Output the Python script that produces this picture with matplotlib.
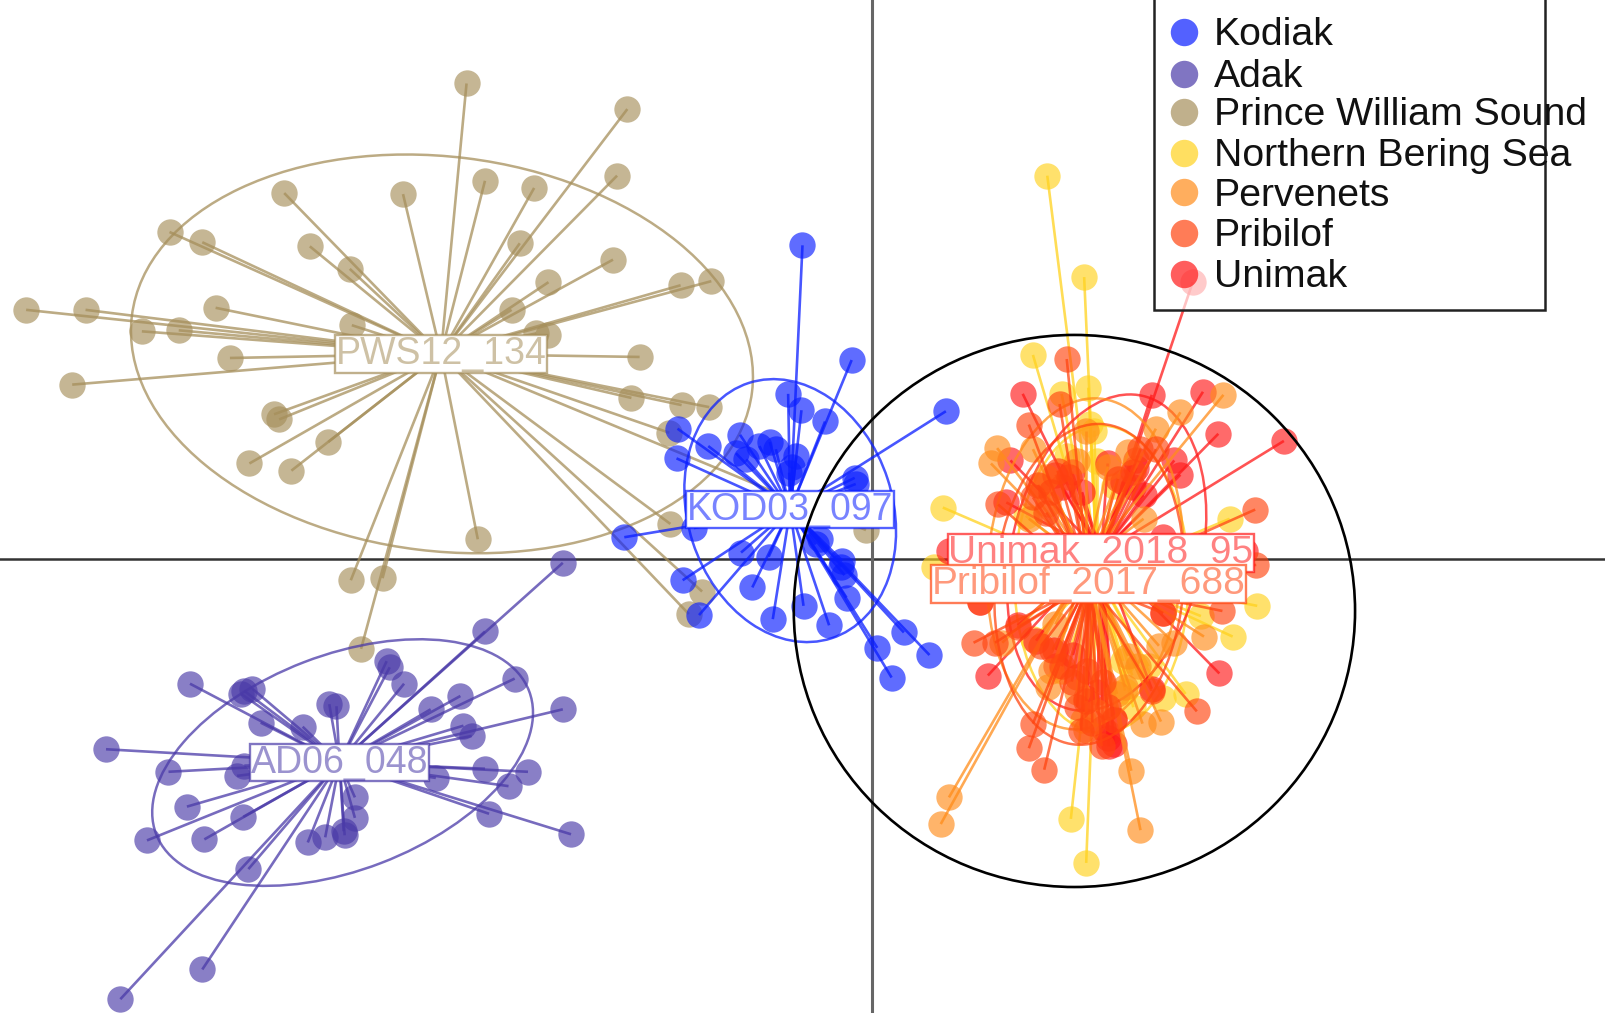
import matplotlib
matplotlib.use('Agg')
import matplotlib.pyplot as plt
from matplotlib.colors import to_rgba
from matplotlib.patches import Ellipse, Rectangle

plt.rcParams['font.family'] = ['Liberation Sans', 'DejaVu Sans']

# discriminant scores
pws_x = [-3.96, -2.39, -2.49, -3.78, -3.30, -4.58, -5.74, -6.86, -6.54, -5.49, -5.10, -3.44, -2.53, -3.16, -3.52,
         -1.87, -1.57, -3.28, -3.16, -5.08, -8.26, -7.68, -7.13, -6.77, -6.41, -6.27, -7.81, -2.27, -2.35, -1.86,
         -1.59, -1.98, -5.84, -5.79, -5.31, -6.08, -5.67, -3.85, -1.97, -5.09, -4.78, -4.99, -1.66, -1.79, -0.06]
pws_y = [4.64, 4.39, 3.74, 3.69, 3.62, 3.56, 3.57, 3.19, 3.09, 3.05, 2.83, 3.08, 2.92, 2.70, 2.43,
         2.67, 2.71, 2.20, 2.18, 2.28, 2.43, 2.43, 2.22, 2.23, 2.45, 1.96, 1.70, 1.97, 1.57, 1.50,
         1.48, 1.23, 1.41, 1.36, 1.14, 0.93, 0.86, 0.19, 0.34, -0.21, -0.19, -0.88, -0.32, -0.54, 0.28]

adk_x = [-3.02, -3.78, -6.66, -6.13, -6.05, -6.16, -5.97, -5.56, -5.30, -5.23, -4.74, -4.71, -4.57, -3.49, -4.02,
         -4.31, -3.02, -3.99, -3.91, -7.48, -6.87, -6.13, -6.20, -4.26, -3.78, -3.36, -3.55, -6.69, -6.14, -7.08,
         -6.52, -5.05, -5.05, -3.74, -2.94, -5.51, -5.34, -5.16, -5.15, -6.09, -6.54, -7.34]
adk_y = [-0.04, -0.71, -1.22, -1.29, -1.27, -1.32, -1.60, -1.64, -1.42, -1.44, -1.00, -1.06, -1.22, -1.17, -1.34,
         -1.47, -1.47, -1.63, -1.73, -1.86, -2.08, -2.02, -2.12, -2.14, -2.05, -2.08, -2.22, -2.42, -2.52, -2.75,
         -2.74, -2.33, -2.53, -2.49, -2.69, -2.77, -2.72, -2.66, -2.70, -3.03, -4.01, -4.30]

kod_x = [-0.68, -0.20, 0.72, -0.82, -0.69, -0.46, -1.90, -1.91, -1.60, -1.29, -1.33, -1.00, -0.94, -0.74, -0.78,
         -0.17, -0.16, -2.42, -1.74, -1.28, -1.01, -1.85, -1.17, -1.69, -0.97, -0.67, -0.42, -0.25, -0.29, -0.30,
         -0.27, 0.31, 0.05, 0.56, 0.19, -0.51, -1.23, -0.81, -0.55, -1.10]
kod_y = [3.06, 1.94, 1.44, 1.61, 1.45, 1.34, 1.27, 0.98, 1.10, 1.21, 1.03, 1.14, 1.07, 1.00, 0.90,
         0.79, 0.73, 0.21, 0.30, 0.06, 0.02, -0.21, -0.28, -0.55, -0.59, -0.46, -0.65, -0.38, -0.02, -0.08,
         -0.16, -0.72, -0.87, -0.94, -1.16, 0.19, 0.97, 0.84, 0.14, 1.10]

nbs_x = [1.71, 2.07, 1.57, 2.11, 1.85, 0.69, 0.60, 3.49, 3.76, 3.52, 1.94, 2.09, 3.06, 1.57, 2.17, 1.65, 2.36,
         3.21, 2.06, 2.47, 2.13, 1.50, 2.84, 2.54, 1.90, 2.20, 2.45, 2.55, 2.30, 2.70, 1.85]
nbs_y = [3.74, 2.75, 1.99, 1.67, 1.61, 0.50, -0.08, 0.39, -0.46, -0.76, -2.54, -2.97, -1.32, -0.78, 1.25, 0.71,
         0.71, -0.56, -1.57, -1.29, 1.32, 0.42, -1.36, -1.14, 1.00, 0.95, -1.00, -1.45, -1.70, -1.05, -1.10]

per_x = [3.43, 3.01, 2.77, 1.22, 1.16, 1.57, 0.75, 0.67, 2.53, 2.62, 2.64, 2.82, 3.24, 2.95, 2.80, 2.09, 2.50,
         2.65, 1.53, 1.72, 1.27, 1.72, 1.79, 2.47, 2.39, 2.09, 1.70, 2.00, 2.30, 1.75, 2.00, 2.20, 2.50, 2.60]
per_y = [1.60, 1.43, 1.27, 1.08, 0.93, 1.07, -2.33, -2.59, -2.07, -2.65, -1.61, -1.59, -0.76, -0.82, -0.85, 1.25,
         1.04, 0.39, 0.39, 0.53, -0.82, -1.25, -0.64, -1.25, -1.32, -1.67, 0.80, 0.95, 0.90, -1.10, -1.30, -1.50,
         -0.95, -1.05]

pri_x = [1.90, 1.53, 1.83, 1.23, 3.74, 3.75, 3.42, 3.17, 0.99, 1.42, 1.68, 1.53, 1.57, 2.04, 1.76, 1.57, 2.62,
         2.77, 1.81, 2.09, 2.73, 2.36, 1.05, 2.24, 2.84, 1.20, 1.62, 1.75, 1.92, 1.70, 2.55, 2.40, 1.65, 1.85,
         1.95, 2.10, 2.25, 2.30, 2.15, 2.00]
pri_y = [1.95, 1.31, 1.51, 0.53, 0.48, -0.06, -0.51, -1.49, -0.82, -0.67, -2.06, -1.85, -1.61, -1.68, -0.89, 0.60,
         1.07, 1.07, 0.86, -1.39, -1.29, -1.57, -0.42, -1.83, -0.53, -0.82, 0.72, 0.65, 0.80, 0.45, 0.85, 0.78,
         -0.85, -1.05, -1.20, -1.10, -1.20, -1.45, -1.60, -1.45]

uni_x = [1.47, 1.35, 1.31, 2.73, 3.23, 3.38, 4.02, 3.13, 2.95, 3.01, 2.58, 2.30, 0.75, 3.64, 2.84, 3.39, 1.13,
         1.42, 1.96, 2.73, 2.09, 2.36, 2.31, 2.36, 1.79, 1.79, 2.58, 1.05, 2.84, 1.85, 1.95, 2.05, 2.45, 2.55,
         2.65, 1.60, 1.80, 2.00, 2.20, 2.25, 2.30]
uni_y = [1.61, 0.96, 0.55, 1.60, 1.63, 1.22, 1.15, 2.70, 0.96, 0.82, 0.89, 0.93, 0.08, 0.08, -0.53, -1.12, -1.14,
         -0.65, -0.94, -1.27, -1.36, -1.56, -1.83, -1.81, -0.89, 0.82, 0.96, -0.42, 0.21, 0.70, 0.85, 0.65, 0.75,
         0.70, 0.62, -0.80, -1.05, -1.15, -1.30, -1.65, -1.75]

# name, x, y, colour, centroid x/y, ellipse x/y/width/height/angle, label, label size
groups = [
    ('Prince William Sound', pws_x, pws_y, '#a68f5b', (-4.21, 2.00), (-4.20, 2.00, 6.10, 3.85, -7), 'PWS12_134', 27),
    ('Adak', adk_x, adk_y, '#4a3aa8', (-5.20, -1.99), (-5.17, -1.99, 3.90, 2.10, 21), 'AD06_048', 27),
    ('Kodiak', kod_x, kod_y, '#0a1eff', (-0.80, 0.48), (-0.80, 0.47, 2.62, 2.00, -72), 'KOD03_097', 27),
    ('Northern Bering Sea', nbs_x, nbs_y, '#ffd21e', (2.20, -0.15), (2.24, -0.20, 3.00, 1.70, 90), None, 0),
    ('Unimak', uni_x, uni_y, '#ff1a1a', (2.235, 0.055), (2.29, 0.06, 3.14, 1.86, 77), 'Unimak_2018_95', 28),
    ('Pervenets', per_x, per_y, '#ff8c1a', (2.09, -0.03), (2.08, -0.05, 3.24, 1.90, 85), None, 0),
    ('Pribilof', pri_x, pri_y, '#ff4510', (2.115, -0.245), (2.12, -0.25, 3.14, 1.84, 85), 'Pribilof_2017_688', 28),
]

legend_order = ['Kodiak', 'Adak', 'Prince William Sound', 'Northern Bering Sea', 'Pervenets', 'Pribilof', 'Unimak']
legend_y = [0.032, 0.073, 0.111, 0.151, 0.190, 0.230, 0.270]

fig = plt.figure(figsize=(16.06, 10.13), dpi=100)
ax = fig.add_axes([0, 0, 1, 1])
ax.set_xlim(-8.515, 7.165)
ax.set_ylim(-4.435, 5.455)
ax.axis('off')

ax.axhline(0, color='#333333', lw=1.8, zorder=1)
ax.axvline(0, color='#666666', lw=2.2, zorder=1)

colours = {}
for i, (name, xs, ys, col, cen, ell, lab, size) in enumerate(groups):
    colours[name] = col
    z = 2 + i * 0.1
    for x, y in zip(xs, ys):
        ax.plot([cen[0], x], [cen[1], y], color=col, lw=1.9, alpha=0.75, zorder=z, solid_capstyle='butt')
    ax.scatter(xs, ys, s=360, color=col, alpha=0.65, linewidths=0, zorder=z)
    ax.add_patch(Ellipse((ell[0], ell[1]), ell[2], ell[3], angle=ell[4], fill=False,
                         edgecolor=col, lw=1.8, alpha=0.75, zorder=z))
    if lab:
        ax.text(cen[0], cen[1], lab, fontsize=size, ha='center', va='center',
                color=to_rgba(col, 0.55), zorder=5 + i * 0.1,
                bbox=dict(boxstyle='square,pad=0.02', facecolor='white', edgecolor=to_rgba(col, 0.7), lw=1.7))

# big circle round the western group
ax.add_patch(Ellipse((1.975, -0.51), 5.48, 5.39, fill=False, edgecolor='black', lw=1.9, zorder=7))

# legend box runs off the top and its text runs past the right side
ax.add_patch(Rectangle((0.7188, 0.6936), 0.2430, 0.32, transform=ax.transAxes, facecolor=(1, 1, 1, 0.65),
                       edgecolor='#222222', lw=1.8, zorder=8, clip_on=False))
for name, ly in zip(legend_order, legend_y):
    ax.scatter([0.7375], [1 - ly], s=390, color=colours[name], alpha=0.7, linewidths=0,
               transform=ax.transAxes, zorder=9)
    ax.text(0.7557, 1 - ly - 0.003, name, fontsize=28.3, color='#111111', ha='left', va='center',
            transform=ax.transAxes, zorder=9)

fig.savefig('out.png', dpi=100, facecolor='white')
